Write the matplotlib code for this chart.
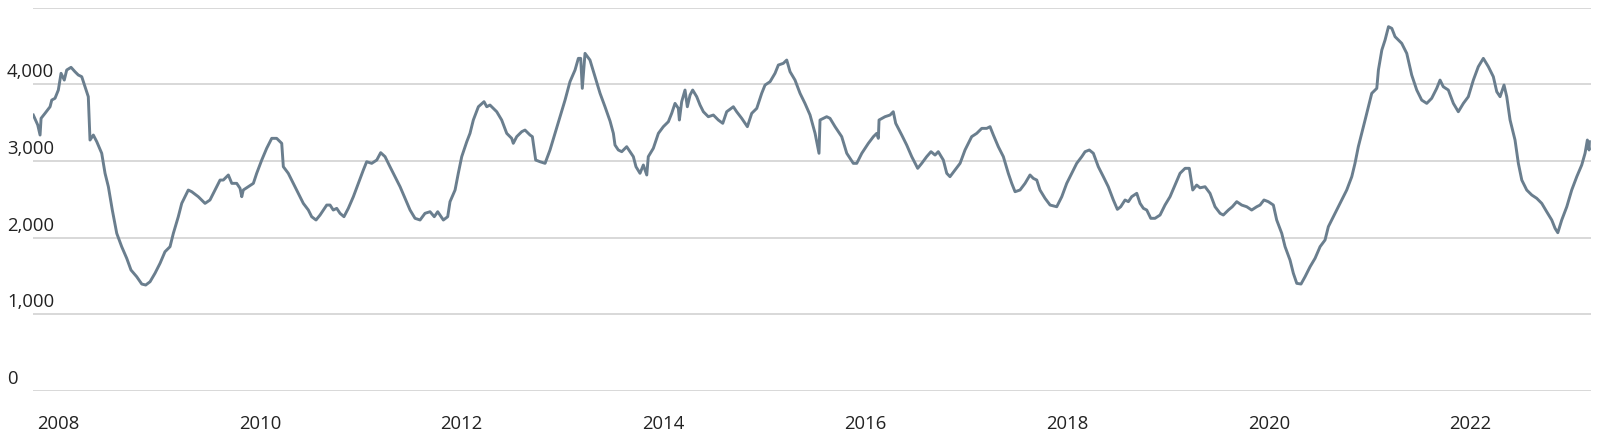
import matplotlib
matplotlib.use("Agg")
import matplotlib.pyplot as plt

# ---- data (decimal year, value) ----
dates = [
    2007.755, 2007.799, 2007.822, 2007.832, 2007.871, 2007.921, 2007.938, 2007.970, 2008.003, 2008.030,
    2008.062, 2008.086, 2008.129, 2008.168, 2008.201, 2008.235, 2008.268, 2008.300, 2008.317, 2008.350,
    2008.384, 2008.433, 2008.466, 2008.499, 2008.538, 2008.582, 2008.631, 2008.681, 2008.723, 2008.780,
    2008.830, 2008.869, 2008.912, 2008.961, 2009.011, 2009.060, 2009.110, 2009.143, 2009.192, 2009.226,
    2009.291, 2009.325, 2009.390, 2009.457, 2009.506, 2009.556, 2009.606, 2009.638, 2009.688, 2009.722,
    2009.771, 2009.804, 2009.821, 2009.836, 2009.886, 2009.936, 2009.969, 2010.019, 2010.068, 2010.118,
    2010.167, 2010.217, 2010.233, 2010.282, 2010.332, 2010.382, 2010.431, 2010.481, 2010.514, 2010.557,
    2010.597, 2010.663, 2010.696, 2010.728, 2010.762, 2010.795, 2010.834, 2010.877, 2010.927, 2010.976,
    2011.026, 2011.059, 2011.109, 2011.159, 2011.198, 2011.241, 2011.290, 2011.340, 2011.390, 2011.439,
    2011.489, 2011.538, 2011.588, 2011.637, 2011.687, 2011.729, 2011.763, 2011.819, 2011.862, 2011.885,
    2011.935, 2011.967, 2012.001, 2012.051, 2012.083, 2012.116, 2012.166, 2012.222, 2012.249, 2012.281,
    2012.348, 2012.397, 2012.447, 2012.496, 2012.512, 2012.546, 2012.596, 2012.628, 2012.678, 2012.701,
    2012.734, 2012.777, 2012.827, 2012.876, 2012.926, 2012.975, 2013.025, 2013.074, 2013.124, 2013.157,
    2013.180, 2013.196, 2013.223, 2013.272, 2013.322, 2013.372, 2013.421, 2013.471, 2013.504, 2013.520,
    2013.553, 2013.587, 2013.636, 2013.669, 2013.702, 2013.728, 2013.768, 2013.801, 2013.818, 2013.835,
    2013.850, 2013.900, 2013.950, 2013.999, 2014.049, 2014.082, 2014.115, 2014.148, 2014.158, 2014.181,
    2014.214, 2014.237, 2014.264, 2014.290, 2014.330, 2014.363, 2014.396, 2014.445, 2014.495, 2014.544,
    2014.588, 2014.627, 2014.693, 2014.726, 2014.776, 2014.832, 2014.875, 2014.925, 2014.974, 2015.007,
    2015.057, 2015.106, 2015.139, 2015.188, 2015.222, 2015.255, 2015.304, 2015.354, 2015.403, 2015.453,
    2015.503, 2015.542, 2015.552, 2015.618, 2015.651, 2015.701, 2015.767, 2015.817, 2015.882, 2015.916,
    2015.966, 2016.031, 2016.081, 2016.114, 2016.130, 2016.137, 2016.196, 2016.246, 2016.278, 2016.302,
    2016.362, 2016.411, 2016.461, 2016.520, 2016.560, 2016.609, 2016.652, 2016.692, 2016.724, 2016.774,
    2016.808, 2016.840, 2016.890, 2016.940, 2016.989, 2017.055, 2017.105, 2017.155, 2017.204, 2017.237,
    2017.270, 2017.319, 2017.369, 2017.418, 2017.452, 2017.485, 2017.534, 2017.584, 2017.633, 2017.666,
    2017.700, 2017.732, 2017.782, 2017.832, 2017.898, 2017.948, 2017.997, 2018.047, 2018.096, 2018.146,
    2018.179, 2018.221, 2018.261, 2018.310, 2018.360, 2018.409, 2018.459, 2018.499, 2018.532, 2018.575,
    2018.608, 2018.641, 2018.691, 2018.724, 2018.757, 2018.790, 2018.830, 2018.872, 2018.922, 2018.971,
    2019.021, 2019.070, 2019.120, 2019.170, 2019.212, 2019.246, 2019.285, 2019.318, 2019.368, 2019.417,
    2019.467, 2019.517, 2019.549, 2019.599, 2019.638, 2019.682, 2019.731, 2019.781, 2019.830, 2019.880,
    2019.913, 2019.952, 2019.995, 2020.045, 2020.078, 2020.128, 2020.161, 2020.210, 2020.243, 2020.277,
    2020.319, 2020.359, 2020.409, 2020.458, 2020.508, 2020.557, 2020.590, 2020.656, 2020.723, 2020.772,
    2020.822, 2020.854, 2020.887, 2020.921, 2020.954, 2020.987, 2021.020, 2021.070, 2021.086, 2021.120,
    2021.152, 2021.186, 2021.219, 2021.251, 2021.317, 2021.367, 2021.416, 2021.466, 2021.515, 2021.565,
    2021.614, 2021.664, 2021.697, 2021.729, 2021.779, 2021.829, 2021.878, 2021.928, 2021.977, 2022.027,
    2022.076, 2022.126, 2022.176, 2022.225, 2022.259, 2022.292, 2022.331, 2022.358, 2022.391, 2022.440,
    2022.473, 2022.507, 2022.556, 2022.606, 2022.655, 2022.705, 2022.754, 2022.804, 2022.837, 2022.864,
    2022.903, 2022.953, 2023.002, 2023.052, 2023.101, 2023.134, 2023.157, 2023.174, 2023.177,
]
values = [
    3599, 3469, 3338, 3556, 3621, 3707, 3794, 3817, 3925, 4143,
    4055, 4186, 4221, 4164, 4121, 4099, 3968, 3838, 3273, 3338,
    3251, 3100, 2839, 2664, 2360, 2056, 1882, 1730, 1578, 1490,
    1395, 1382, 1425, 1535, 1665, 1816, 1882, 2056, 2273, 2447,
    2621, 2599, 2534, 2447, 2491, 2621, 2751, 2751, 2817, 2708,
    2708, 2643, 2534, 2621, 2664, 2708, 2839, 3012, 3165, 3295,
    3295, 3230, 2925, 2839, 2708, 2578, 2447, 2360, 2273, 2230,
    2295, 2425, 2425, 2360, 2382, 2317, 2273, 2382, 2534, 2708,
    2882, 2990, 2969, 3012, 3108, 3056, 2925, 2795, 2664, 2513,
    2360, 2252, 2230, 2317, 2338, 2273, 2338, 2230, 2273, 2469,
    2621, 2839, 3056, 3251, 3360, 3534, 3707, 3773, 3707, 3729,
    3642, 3534, 3360, 3295, 3230, 3317, 3382, 3403, 3338, 3317,
    3012, 2990, 2969, 3143, 3360, 3577, 3794, 4034, 4186, 4338,
    4338, 3947, 4403, 4316, 4099, 3882, 3707, 3520, 3360, 3208,
    3143, 3121, 3186, 3121, 3056, 2925, 2839, 2947, 2882, 2817,
    3056, 3165, 3360, 3447, 3512, 3621, 3751, 3686, 3534, 3773,
    3925, 3707, 3860, 3925, 3838, 3729, 3642, 3577, 3599, 3534,
    3491, 3642, 3707, 3642, 3556, 3447, 3621, 3686, 3882, 3990,
    4034, 4143, 4251, 4273, 4316, 4164, 4055, 3882, 3750, 3600,
    3360, 3100, 3534, 3577, 3556, 3447, 3317, 3100, 2969, 2969,
    3100, 3230, 3317, 3360, 3295, 3534, 3577, 3599, 3642, 3491,
    3338, 3208, 3056, 2904, 2969, 3056, 3121, 3077, 3121, 3012,
    2839, 2795, 2882, 2969, 3143, 3317, 3360, 3425, 3425, 3447,
    3338, 3186, 3056, 2839, 2708, 2599, 2621, 2708, 2817, 2773,
    2751, 2621, 2513, 2425, 2403, 2534, 2708, 2839, 2969, 3056,
    3121, 3143, 3100, 2925, 2795, 2664, 2491, 2369, 2403, 2491,
    2469, 2534, 2578, 2447, 2382, 2360, 2252, 2252, 2295, 2425,
    2534, 2686, 2839, 2904, 2904, 2621, 2686, 2650, 2664, 2578,
    2403, 2317, 2295, 2360, 2403, 2469, 2425, 2403, 2360, 2403,
    2425, 2491, 2469, 2425, 2230, 2056, 1882, 1708, 1535, 1404,
    1395, 1490, 1621, 1730, 1882, 1969, 2143, 2317, 2491, 2621,
    2795, 2969, 3186, 3360, 3534, 3707, 3882, 3947, 4186, 4447,
    4577, 4751, 4729, 4621, 4534, 4403, 4121, 3925, 3794, 3751,
    3817, 3947, 4055, 3968, 3925, 3751, 3642, 3751, 3838, 4055,
    4229, 4338, 4229, 4099, 3903, 3838, 3990, 3838, 3534, 3273,
    2969, 2751, 2621, 2556, 2513, 2447, 2338, 2230, 2121, 2064,
    2230, 2403, 2621, 2795, 2947, 3100, 3273, 3143, 3251,
]

y_ticks = [0, 1000, 2000, 3000, 4000, 5000]
y_tick_labels = ["0", "1,000", "2,000", "3,000", "4,000"]
x_ticks = [2008, 2010, 2012, 2014, 2016, 2018, 2020, 2022]
x_tick_labels = ["2008", "2010", "2012", "2014", "2016", "2018", "2020", "2022"]

LINE = "#6a7e8e"
GRID = "#d6d6d6"
TEXT = "#222222"
FONT = ["Open Sans", "DejaVu Sans"]

W, H = 1600, 444
fig = plt.figure(figsize=(W / 100, H / 100), dpi=100)
left_px, right_px, top_px, bottom_px = 33, 1591, 7.6, 391
ax = fig.add_axes([left_px / W, 1 - bottom_px / H,
                   (right_px - left_px) / W, (bottom_px - top_px) / H])

ax.plot(dates, values, color=LINE, lw=2.1, solid_joinstyle="round")

ax.set_xlim(2007.752, 2023.193)
ax.set_ylim(0, 5000)
for s in ax.spines.values():
    s.set_visible(False)

ax.set_yticks(y_ticks)
ax.yaxis.grid(True, color=GRID, lw=1.3)
ax.set_axisbelow(True)
ax.tick_params(axis="y", length=0, labelleft=False)

ax.set_xticks(x_ticks)
ax.set_xticklabels(x_tick_labels, fontfamily=FONT, fontsize=13.3, color=TEXT)
ax.tick_params(axis="x", length=0, pad=17)

for v, lab in zip(y_ticks, y_tick_labels):
    ax.annotate(lab, xy=(7 / W, v), xycoords=("figure fraction", "data"),
                xytext=(0, 12), textcoords="offset pixels",
                ha="left", va="center", fontfamily=FONT, fontsize=13.3, color=TEXT)

fig.savefig("out.png", dpi=100)
